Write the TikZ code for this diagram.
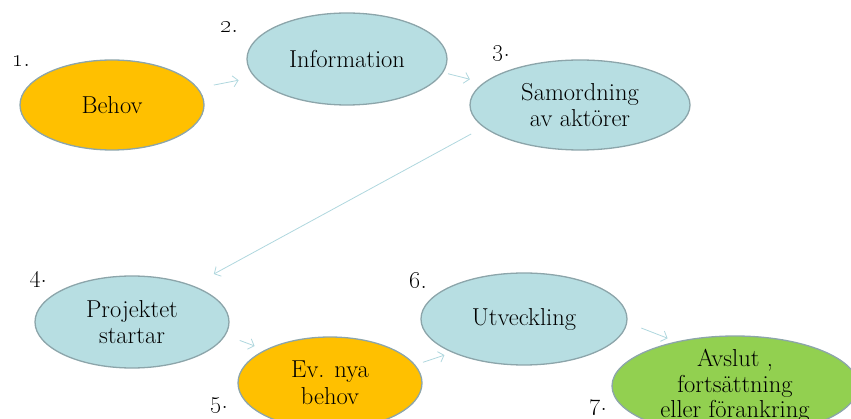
\documentclass[tikz,border=0pt]{standalone}
\usetikzlibrary{shapes.geometric,arrows.meta}
\definecolor{lblue}{RGB}{183,222,226}
\definecolor{orng}{RGB}{255,192,0}
\definecolor{grn}{RGB}{146,208,80}
\definecolor{edgec}{RGB}{140,165,170}
\definecolor{arrc}{RGB}{175,215,222}
\begin{document}
\begin{tikzpicture}[x=1pt,y=-1pt,
 ell/.style={ellipse,draw=edgec,line width=1.3pt,inner sep=0pt,align=center,font=\fontsize{24.5}{26.5}\selectfont},
 arr/.style={draw=arrc,line width=0.8pt,-{Straight Barb[length=5pt,width=11pt]}},
 num/.style={anchor=base west,inner sep=0pt,font=\fontsize{25}{26}\selectfont}]
\useasboundingbox (0,0) rectangle (851,419);
\node[ell,fill=orng,minimum width=184,minimum height=90] (behov) at (112,105) {Behov};
\node[ell,fill=lblue,minimum width=200,minimum height=92] (info) at (347,59) {Information};
\node[ell,fill=lblue,minimum width=220,minimum height=90] (samord) at (580,105) {Samordning\\av aktörer};
\node[ell,fill=lblue,minimum width=194,minimum height=92] (proj) at (132,322) {Projektet\\startar};
\node[ell,fill=orng,minimum width=184,minimum height=92] (ev) at (330,383) {Ev. nya\\behov};
\node[ell,fill=lblue,minimum width=206,minimum height=92] (utv) at (524,319) {Utveckling};
\node[ell,fill=grn,inner ysep=-6pt,minimum width=246,minimum height=100,font=\fontsize{24.5}{25.5}\selectfont] (avslut) at (735,386) {Avslut ,\\fortsättning\\eller förankring};
\node[num] (n1) at (12,67) {\oldstylenums{1}.};
\node[num] (n2) at (220,33) {\oldstylenums{2}.};
\node[num] (n3) at (492,57) {\oldstylenums{3}.};
\node[num] (n4) at (29,283) {\oldstylenums{4}.};
\node[num] (n5) at (210,408) {\oldstylenums{5}.};
\node[num] (n6) at (409,289) {\oldstylenums{6}.};
\node[num] (n7) at (589,410) {\oldstylenums{7}.};
\draw[arr,shorten <=16pt,shorten >=16pt] (behov) -- (info);
\draw[arr,shorten <=5pt,shorten >=14pt] (info.-8) -- (samord.167);
\draw[arr,shorten <=14pt,shorten >=24pt] (samord.193) -- (proj.31);
\draw[arr,shorten <=15pt,shorten >=11pt] (proj.-8) -- (ev.153);
\draw[arr,shorten <=8pt,shorten >=8pt] (ev.12) -- (utv.205);
\draw[arr,shorten <=15pt,shorten >=9pt] (utv.-2) -- (avslut.143);
\end{tikzpicture}
\end{document}
